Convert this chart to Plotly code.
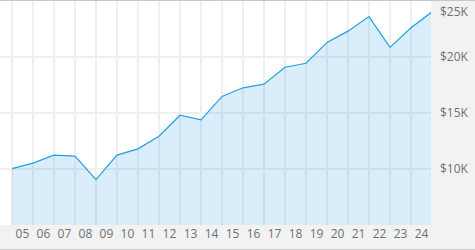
import plotly.graph_objects as go

# Data: portfolio value at the start of each year 2005..2025
years = list(range(2005, 2026))
values = [10030, 10530, 11240, 11150, 9050, 11240, 11800, 12930, 14800, 14380,
          16480, 17250, 17580, 19090, 19440, 21300, 22310, 23610, 20860, 22610, 24030]

year_labels = ["05", "06", "07", "08", "09", "10", "11", "12", "13", "14",
               "15", "16", "17", "18", "19", "20", "21", "22", "23", "24"]
label_pos = [y + 0.5 for y in range(2005, 2025)]

y_ticks = [10000, 15000, 20000, 25000]
y_text = ["$10K", "$15K", "$20K", ""]

font = dict(family="Open Sans, Arial, sans-serif", size=12, color="#707070")

fig = go.Figure()
fig.add_trace(go.Scatter(
    x=years, y=values, mode="lines",
    line=dict(color="#23a0e0", width=1.2),
    fill="tozeroy", fillcolor="rgba(30,150,230,0.17)",
    hoverinfo="skip",
))

fig.update_layout(
    width=475, height=250,
    margin=dict(l=0, r=44, t=1, b=25),
    paper_bgcolor="#f2f2f2",
    plot_bgcolor="#ffffff",
    showlegend=False,
    font=font,
    xaxis=dict(
        range=[2004.43, 2024.952],
        tickmode="array", tickvals=label_pos, ticktext=year_labels,
        showgrid=False, zeroline=False, showline=False, ticks="",
        tickfont=font,
        minor=dict(tickmode="array", tickvals=years, showgrid=True,
                   gridcolor="#efefef", gridwidth=2, ticks=""),
    ),
    yaxis=dict(
        range=[5000, 25000], side="right",
        tickmode="array", tickvals=y_ticks, ticktext=y_text,
        showgrid=True, gridcolor="#efefef", gridwidth=2,
        zeroline=False, showline=False, ticks="",
        ticklabelstandoff=8, tickfont=font,
    ),
    annotations=[dict(
        x=1, xref="paper", y=25000, yref="y", text="$25K",
        showarrow=False, xanchor="left", yanchor="middle",
        xshift=7, yshift=-10, font=font,
    )],
    shapes=[
        dict(type="line", xref="paper", yref="paper",
             x0=0, x1=475 / 431, y0=1 + 0.5 / 224, y1=1 + 0.5 / 224,
             line=dict(color="#c8c8c8", width=1)),
        dict(type="line", xref="paper", yref="paper",
             x0=0, x1=475 / 431, y0=-24.5 / 224, y1=-24.5 / 224,
             line=dict(color="#c8c8c8", width=1)),
    ],
)

fig.write_html("out.html")
